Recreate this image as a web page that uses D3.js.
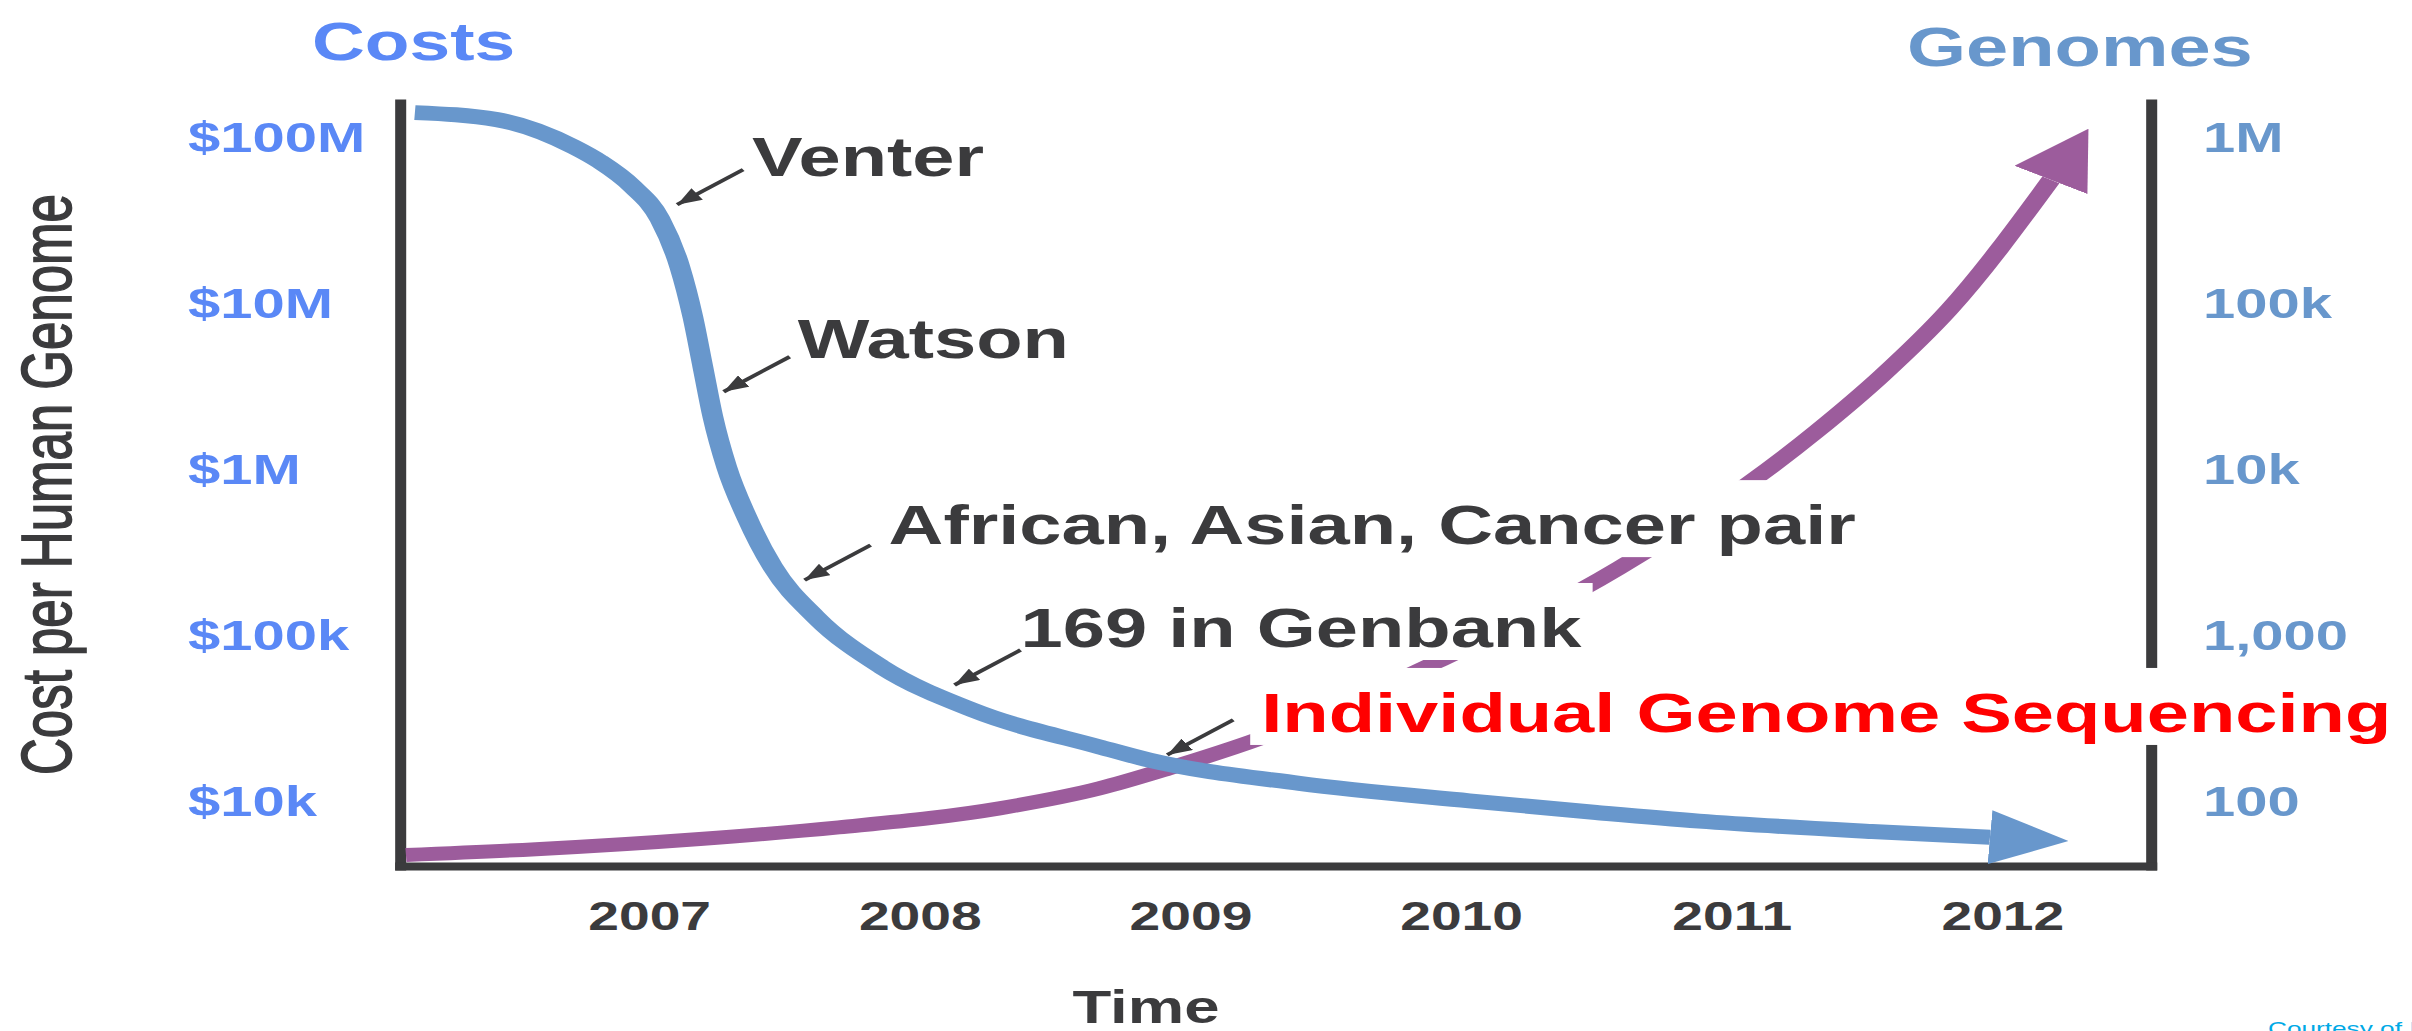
<!DOCTYPE html>
<html>
<head>
<meta charset="utf-8">
<script src="https://cdn.jsdelivr.net/npm/d3@7"></script>
<style>
  html, body { margin: 0; padding: 0; background: #fff; overflow: hidden; }
  svg { display: block; }
  text { font-family: "Liberation Sans", Arial, Helvetica, sans-serif; }
</style>
</head>
<body>
<svg width="2412" height="1031"></svg>
<script>
// ---- values ----
const years = [2007, 2008, 2009, 2010, 2011, 2012];
const costTicks = [1e4, 1e5, 1e6, 1e7, 1e8];
const costLabels = ["$10k", "$100k", "$1M", "$10M", "$100M"];
const genomeTicks = [100, 1000, 1e4, 1e5, 1e6];
const genomeLabels = ["100", "1,000", "10k", "100k", "1M"];

// cost per human genome (blue curve)
const costYear = [2006.135, 2006.438, 2006.722, 2006.818, 2006.94, 2007.04, 2007.114, 2007.162,
  2007.199, 2007.236, 2007.287, 2007.361, 2007.457, 2007.616, 2007.86, 2008.196, 2008.665,
  2008.849, 2009.403, 2010.031, 2010.5, 2010.88, 2011.519, 2011.955];
const costValue = [1.4e8, 1.27e8, 8.7e7, 7.1e7, 5.0e7, 3.2e7, 1.64e7, 8.2e6,
  4.1e6, 2.05e6, 1.02e6, 5.1e5, 2.55e5, 1.27e5, 63400, 34900, 20900,
  17400, 12600, 9890, 8410, 7460, 6460, 5960];

// number of genomes sequenced (purple curve)
const genomeYear = [2006.102, 2006.582, 2007.188, 2007.701, 2008.295, 2008.664, 2008.919,
  2009.255, 2009.92, 2010.585, 2011.312, 2011.556, 2011.803, 2012.18];
const genomeValue = [46.6, 50.5, 58.2, 68.4, 89.1, 117.5, 155, 234, 692, 2512, 16600, 36300, 90400, 550000];

// milestones pointed at on the cost curve
const noteText = ["Venter", "Watson", "African, Asian, Cancer pair", "169 in Genbank",
  "Individual Genome Sequencing"];
const noteYear = [2007.104, 2007.276, 2007.575, 2008.129, 2008.915];
const noteCost = [3.9e7, 2.9e6, 2.12e5, 4.94e4, 1.87e4];

// ---- layout ----
let svg = d3.select("svg"),
  width = +svg.attr("width"),
  height = +svg.attr("height");

const SX = 1.38; // the slide is stretched sideways, text and strokes too
const px = (v) => v / SX; // page x -> inner x
const dark = "#3b3b3d";
const costBlue = "#5a88f6";
const genomeBlue = "#6897cc";
const purple = "#9c5c9c";

const defs = svg.append("defs");
const g = svg.append("g").attr("transform", `scale(${SX},1)`);

const x = d3.scaleLinear().domain([2006.08, 2012.55]).range([px(400), px(2151)]);
const yCost = d3.scaleLog().domain([4000, 1.6e8]).range([866, 103]);
const yGenome = d3.scaleLog().domain([40, 1.6e6]).range([866, 103]);

// arrow heads
function marker(id, color, len, half, tipAtEnd) {
  defs.append("marker")
    .attr("id", id)
    .attr("markerUnits", "userSpaceOnUse")
    .attr("viewBox", `0 ${-half} ${len} ${2 * half}`)
    .attr("markerWidth", len)
    .attr("markerHeight", 2 * half)
    .attr("refX", tipAtEnd ? len : 0)
    .attr("refY", 0)
    .attr("orient", "auto")
    .append("path")
    .attr("d", `M0,${-half}L${len},0L0,${half}Z`)
    .attr("fill", color);
}
marker("headBlue", genomeBlue, 57, 27, false);
marker("headPurple", purple, 58, 30, false);
marker("headNote", dark, 18, 7, true);

// axes
function styleDomain(sel) {
  sel.select(".domain")
    .attr("stroke", dark)
    .attr("stroke-width", 8)
    .attr("stroke-linecap", "square");
}

const leftAxis = g.append("g")
  .attr("transform", `translate(${x.range()[0]},0)`)
  .call(d3.axisLeft(yCost).tickValues(costTicks).tickFormat((d, i) => costLabels[i]).tickSize(0));
styleDomain(leftAxis);
leftAxis.selectAll("text")
  .attr("x", px(188) - x.range()[0])
  .attr("dy", "0.36em")
  .attr("text-anchor", "start")
  .attr("fill", costBlue)
  .style("font-size", "42px")
  .style("font-weight", "bold");

const rightAxis = g.append("g")
  .attr("transform", `translate(${x.range()[1]},0)`)
  .call(d3.axisRight(yGenome).tickValues(genomeTicks).tickFormat((d, i) => genomeLabels[i]).tickSize(0));
styleDomain(rightAxis);
rightAxis.selectAll("text")
  .attr("x", px(2203) - x.range()[1])
  .attr("dy", "0.36em")
  .attr("text-anchor", "start")
  .attr("fill", genomeBlue)
  .style("font-size", "42px")
  .style("font-weight", "bold");

const bottomAxis = g.append("g")
  .attr("transform", `translate(0,${yCost.range()[0]})`)
  .call(d3.axisBottom(x).tickValues(years).tickFormat(d3.format("d")).tickSize(0));
styleDomain(bottomAxis);
bottomAxis.selectAll("text")
  .attr("y", 64)
  .attr("dy", 0)
  .attr("fill", dark)
  .style("font-size", "40px")
  .style("font-weight", "bold");

const line = d3.line().curve(d3.curveMonotoneX);

// genomes curve
g.append("path")
  .attr("d", line(genomeYear.map((t, i) => [x(t), yGenome(genomeValue[i])])))
  .attr("fill", "none")
  .attr("stroke", purple)
  .attr("stroke-width", 14)
  .attr("marker-end", "url(#headPurple)");

// milestone labels, each on a white box (they hide the purple curve)
const nudge = [[75, -29], [74, -34], [84, -36], [66, -38], [94, -23]];
noteText.forEach((t, i) => {
  const bx = x(noteYear[i]) + px(nudge[i][0]);
  const by = yCost(noteCost[i]) + nudge[i][1];
  const lab = g.append("g");
  const box = lab.append("rect").attr("fill", "#fff");
  const txt = lab.append("text")
    .attr("x", bx)
    .attr("y", by)
    .attr("fill", i === 4 ? "#ff0000" : dark)
    .style("font-size", "55px")
    .style("font-weight", "bold")
    .text(t);
  const bb = txt.node().getBBox();
  box.attr("x", bb.x - 8)
    .attr("y", by - 64)
    .attr("width", bb.width + 16)
    .attr("height", 77);
});

// cost curve
g.append("path")
  .attr("d", line(costYear.map((t, i) => [x(t), yCost(costValue[i])])))
  .attr("fill", "none")
  .attr("stroke", genomeBlue)
  .attr("stroke-width", 15)
  .attr("marker-end", "url(#headBlue)");

// little arrows to the milestones
noteText.forEach((t, i) => {
  const tx = x(noteYear[i]), ty = yCost(noteCost[i]);
  g.append("line")
    .attr("x1", tx + px(66))
    .attr("y1", ty - 35)
    .attr("x2", tx)
    .attr("y2", ty)
    .attr("stroke", dark)
    .attr("stroke-width", 3.5)
    .attr("marker-end", "url(#headNote)");
});

// titles
g.append("text")
  .attr("x", px(312))
  .attr("y", 60)
  .attr("fill", costBlue)
  .style("font-size", "53px")
  .style("font-weight", "bold")
  .text("Costs");

g.append("text")
  .attr("x", px(1907))
  .attr("y", 66)
  .attr("fill", genomeBlue)
  .style("font-size", "55px")
  .style("font-weight", "bold")
  .text("Genomes");

g.append("text")
  .attr("transform", `translate(${px(71)},775) rotate(-90)`)
  .attr("fill", dark)
  .attr("stroke", dark)
  .attr("stroke-width", 1.2)
  .style("font-size", "51px")
  .text("Cost per Human Genome");

g.append("text")
  .attr("x", px(1146))
  .attr("y", 1023)
  .attr("text-anchor", "middle")
  .attr("fill", dark)
  .style("font-size", "46px")
  .style("font-weight", "bold")
  .text("Time");

g.append("text")
  .attr("x", px(2268))
  .attr("y", 1035)
  .attr("fill", "#00a9e6")
  .style("font-size", "19px")
  .text("Courtesy of Illumina");
</script>
</body>
</html>
